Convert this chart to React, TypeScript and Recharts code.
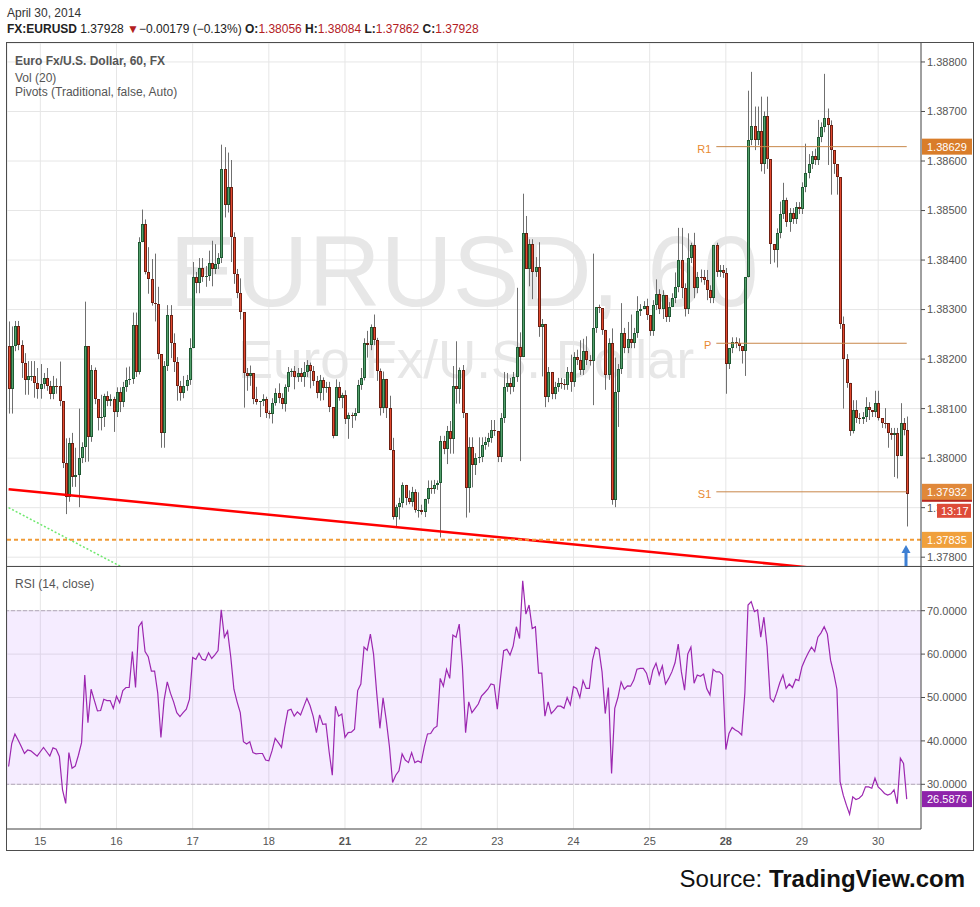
import React from "react";
import {
  ComposedChart,
  Bar,
  Line,
  XAxis,
  YAxis,
  CartesianGrid,
  ReferenceLine,
  ReferenceArea,
} from "recharts";

// hourly EURUSD candles, 14 Apr 14:00 -> 30 Apr 09:00
const DAY_TICKS = [10, 34, 58, 82, 106, 130, 154, 178, 202, 226, 250, 274];
const DAY_LABELS = ["15", "16", "17", "18", "21", "22", "23", "24", "25", "28", "29", "30"];
const WEEK_STARTS = ["21", "28"];

const FIRST_OPEN = 1.38226;
const CLOSES = [
  1.3814, 1.38226, 1.38267, 1.38228, 1.38192, 1.38158, 1.38166, 1.38166, 1.38152, 1.3814,
  1.3815, 1.38162, 1.38146, 1.38129, 1.38146, 1.38145, 1.38115, 1.3799, 1.37922, 1.38031,
  1.37962, 1.37966, 1.38, 1.38022, 1.38226, 1.38043, 1.38178, 1.38119, 1.38081, 1.38083,
  1.38125, 1.38115, 1.38119, 1.38093, 1.38133, 1.38113, 1.38144, 1.38158, 1.3816, 1.38269,
  1.38174, 1.38436, 1.38472, 1.38376, 1.38362, 1.38313, 1.38311, 1.3821, 1.38051, 1.38186,
  1.38289, 1.38232, 1.38194, 1.38146, 1.38131, 1.38146, 1.38158, 1.38222, 1.38366, 1.38353,
  1.38384, 1.38366, 1.38368, 1.38394, 1.38382, 1.38392, 1.38404, 1.38583, 1.38511, 1.38547,
  1.38446, 1.38372, 1.38333, 1.38295, 1.38172, 1.38166, 1.38172, 1.38119, 1.38113, 1.38115,
  1.38119, 1.38091, 1.3809, 1.38111, 1.38131, 1.38121, 1.38109, 1.38144, 1.38174, 1.38176,
  1.38164, 1.38172, 1.38164, 1.38174, 1.38188, 1.38176, 1.38156, 1.38131, 1.38158, 1.38142,
  1.38144, 1.38103, 1.38045, 1.38144, 1.38121, 1.38127, 1.38079, 1.38087, 1.38086, 1.38091,
  1.38148, 1.38162, 1.38232, 1.38228, 1.38265, 1.38238, 1.38176, 1.38101, 1.3816, 1.38101,
  1.38016, 1.37881, 1.37901, 1.3791, 1.37946, 1.3792, 1.37912, 1.37932, 1.37895, 1.37896,
  1.37891, 1.37918, 1.3794, 1.37938, 1.37946, 1.3795, 1.38035, 1.38018, 1.38055, 1.38039,
  1.38146, 1.3814, 1.38178, 1.38091, 1.3794, 1.38022, 1.37986, 1.38, 1.38002, 1.38027,
  1.38033, 1.38041, 1.38057, 1.38055, 1.38002, 1.38081, 1.38144, 1.38152, 1.38144, 1.38164,
  1.38224, 1.38204, 1.38454, 1.38382, 1.38432, 1.38376, 1.38386, 1.38265, 1.38271, 1.38123,
  1.38174, 1.38129, 1.38144, 1.38152, 1.3815, 1.38148, 1.38174, 1.38154, 1.38204, 1.38198,
  1.38178, 1.38216, 1.38198, 1.38197, 1.38263, 1.38305, 1.38303, 1.38259, 1.38168, 1.38232,
  1.37916, 1.38133, 1.3818, 1.38253, 1.38222, 1.3824, 1.38232, 1.38253, 1.38297, 1.38301,
  1.38307, 1.38289, 1.38257, 1.38309, 1.38331, 1.38301, 1.38329, 1.38285, 1.38305, 1.38323,
  1.38345, 1.384, 1.38343, 1.38301, 1.38404, 1.3843, 1.38343, 1.38366, 1.38365, 1.3836,
  1.38339, 1.38323, 1.3843, 1.38376, 1.3838, 1.38374, 1.3819, 1.38222, 1.38234, 1.38232,
  1.38226, 1.38216, 1.38365, 1.38642, 1.3867, 1.38642, 1.3866, 1.38594, 1.3869, 1.38604,
  1.38432, 1.3842, 1.38454, 1.38493, 1.38521, 1.38477, 1.38495, 1.38483, 1.38507, 1.38503,
  1.38547, 1.38575, 1.38594, 1.3861, 1.38602, 1.38648, 1.38668, 1.38686, 1.38672, 1.38622,
  1.38594, 1.38567, 1.38271, 1.382, 1.38152, 1.38055, 1.38097, 1.38081, 1.38079, 1.38083,
  1.38103, 1.38097, 1.38093, 1.38111, 1.38081, 1.38071, 1.3807, 1.38051, 1.38047, 1.38051,
  1.38004, 1.38071, 1.38056, 1.37928,
];
// wick lengths in pips above / below the body
const WICK_UP = [
  5, 4, 1, 1, 1, 2, 3, 3, 3, 3,
  4, 1, 2, 1, 2, 1.5, 5, 0, 5, 1,
  2, 5.5, 10, 1, 9, 0, 1, 0.5, 0, 4.5,
  0.5, 1, 1, 0.5, 1, 1, 1, 2.5, 2.5, 2.5,
  2.5, 1, 3, 1, 5, 4, 10, 3.5, 0, 1,
  2, 2, 2, 1, 1, 2, 1, 2, 3, 1,
  2, 2, 2, 2.5, 4.5, 4, 1, 5, 4.5, 7,
  5.5, 1, 1, 3, 0, 1, 1.5, 0, 2.5, 0,
  1, 0.5, 0.5, 1, 1, 2, 1, 0.5, 1, 0.5,
  1, 1, 1, 2, 1, 0.5, 1, 1, 1, 0.5,
  1, 1, 0, 1.5, 1, 0.5, 1, 0.5, 0.5, 1,
  1, 2, 1, 2.5, 0.5, 2.5, 0.5, 0.5, 1.5, 0,
  2.5, 2.5, 0.5, 1, 0.5, 0, 1.5, 1, 0.5, 3.5,
  1, 0, 1.5, 1.5, 1, 0.5, 1, 1, 1, 2,
  4, 9, 0.5, 1, 0, 2, 2, 1, 4, 1.5,
  1, 1, 2, 2, 0, 1, 3, 2, 1, 1,
  12, 3, 8, 3.5, 1, 1, 2, 5, 1, 0,
  1, 0, 1, 1, 1, 1, 1, 3.5, 1, 1.5,
  4, 2.5, 3, 1, 15, 0, 0.5, 0, 0, 1,
  3, 7, 1, 6, 1, 3.5, 5, 1, 3, 1,
  1, 1.5, 0, 1, 3, 1, 1, 0, 1, 1,
  3, 6.5, 6.5, 1, 5, 0.5, 2.5, 1, 1.5, 1.5,
  2, 1, 0, 0.5, 1, 1, 1, 0, 1, 1,
  1, 0, 0, 10, 11, 4, 5, 7, 1, 4,
  0, 0, 1, 2.5, 3.5, 0.5, 1, 1, 1, 1,
  1, 6, 2, 1, 1.5, 3.5, 1, 9, 2, 1,
  0, 0, 0, 1.5, 1, 0, 2, 2, 1, 1,
  2, 1, 0, 2.5, 2.5, 0, 3, 0, 1, 1,
  1, 4, 1, 2.8,
];
const WICK_DN = [
  5, 5, 1, 1, 3, 3, 3, 1, 3, 2,
  2, 1, 1, 1, 1, 1.5, 1, 1, 3.5, 1,
  2, 2, 6.5, 1, 3, 5, 1, 1, 2.5, 2.5,
  2, 1, 1, 4, 1, 2, 1, 1, 1, 1,
  1, 0.5, 0, 0.5, 3, 0.5, 3.5, 1, 3, 3,
  1, 3, 2, 3, 1.5, 1, 1, 1, 0, 2,
  2, 1, 2, 1, 3.5, 1, 1, 1, 2.5, 1.5,
  5, 2, 1, 1.5, 7, 3, 2, 1, 0.5, 3,
  1, 1, 1, 2, 0.5, 1, 1, 1.5, 1, 1,
  2.5, 1, 1, 2, 1, 3.5, 1, 1, 1.5, 2.5,
  1, 1, 0.5, 0, 0.5, 2, 1, 4, 2.5, 1,
  0, 1, 0.5, 2.5, 1, 1, 2, 1.5, 1, 2,
  0, 0.5, 2, 2.5, 1, 1.5, 0.5, 1, 0.5, 1.5,
  0.5, 1, 1, 1, 1, 1, 11, 1, 3, 3,
  3, 3, 3, 1, 6, 5, 4.5, 2, 1, 1,
  1, 1, 1, 1, 1, 1, 1, 1, 1.5, 1,
  1, 21, 0, 0, 3.5, 5.5, 1, 2, 10, 2,
  1, 1, 1, 1, 1, 1, 1, 2, 1, 1,
  1, 1, 1, 1, 9, 1, 1, 1, 3, 1,
  1, 1.5, 7, 1, 1, 1, 1, 1, 1, 1,
  0, 1, 1, 1, 1, 1, 2, 1, 1, 0,
  1, 1, 2, 1.5, 1, 1, 2, 1, 1, 1,
  2, 1, 1, 1, 1, 1, 6, 1, 1, 1,
  1, 2.5, 5, 0, 1, 2, 1, 1.5, 2, 2,
  4, 2.5, 3.5, 1, 1, 1, 2, 1, 1, 1,
  1, 1, 1, 1, 1, 1, 1, 1, 8, 9,
  2, 3.5, 1, 10, 1, 1, 0.5, 1, 1, 1,
  1, 2, 1, 1, 0.5, 1, 1, 3, 1, 8.5,
  4.5, 0, 1, 6.6,
];
const RSI = [
  34.1, 39.4, 41.6, 40.2, 38.7, 37.1, 37.9, 37.7, 37.1, 36.5,
  37.5, 38.5, 37.5, 36.5, 38.4, 38.1, 36.4, 28.7, 25.6, 37.3,
  33.7, 34.2, 36.7, 39.6, 55.2, 44.2, 51.9, 49.4, 46.9, 47.0,
  49.6, 49.3, 49.3, 47.5, 50.3, 48.8, 51.6, 52.3, 52.3, 60.6,
  52.3, 66.3, 67.4, 60.6, 59.4, 56.1, 56.1, 51.0, 40.8, 49.4,
  53.6, 51.0, 49.0, 46.5, 45.6, 46.5, 47.3, 49.6, 59.2, 58.8,
  60.2, 58.8, 58.6, 60.3, 59.0, 59.8, 60.8, 70.2, 63.9, 65.3,
  59.4, 51.9, 49.0, 46.5, 39.8, 39.3, 39.8, 37.3, 37.0, 37.1,
  37.1, 35.6, 35.4, 37.7, 40.6, 39.6, 38.5, 43.1, 47.0, 47.3,
  45.7, 46.7, 46.0, 47.9, 49.8, 48.1, 45.6, 41.9, 46.0, 43.8,
  43.9, 37.5, 32.1, 48.0, 45.7, 46.2, 40.8, 41.9, 42.0, 42.7,
  51.6, 53.1, 61.6, 60.9, 64.6, 60.0, 51.0, 42.9, 49.9, 44.8,
  38.7, 30.4, 32.1, 33.1, 37.0, 35.6, 35.0, 37.3, 35.0, 35.4,
  35.0, 38.7, 41.6, 41.7, 42.9, 43.4, 54.4, 52.6, 56.5, 54.4,
  64.4, 63.9, 66.9, 57.1, 41.9, 49.0, 46.5, 47.5, 48.5, 50.3,
  51.1, 51.9, 53.1, 52.9, 47.3, 54.4, 60.8, 61.1, 59.8, 61.9,
  66.3, 63.6, 76.9, 69.2, 71.3, 65.9, 66.3, 55.6, 55.6, 45.7,
  49.0, 46.3, 47.1, 48.0, 48.0, 47.5, 50.0, 48.3, 52.5, 52.1,
  50.0, 53.9, 52.1, 52.1, 58.6, 61.6, 61.1, 55.9, 46.3, 52.3,
  32.5, 47.5, 50.0, 53.6, 51.9, 52.7, 52.6, 54.0, 56.5, 56.7,
  56.7, 55.6, 52.9, 56.3, 57.9, 55.2, 57.3, 53.1, 54.4, 55.9,
  58.0, 62.3, 55.9, 51.7, 60.0, 61.6, 53.3, 55.2, 54.9, 55.4,
  52.0, 50.6, 56.5, 55.9, 55.9, 55.2, 38.0, 41.7, 43.1, 42.5,
  42.1, 41.4, 51.1, 71.3, 72.1, 69.8, 70.2, 63.9, 68.5, 61.7,
  49.8, 49.0, 51.0, 53.4, 55.2, 52.1, 53.1, 52.3, 54.2, 53.9,
  57.1, 58.8, 60.3, 61.6, 60.6, 63.9, 64.9, 66.3, 64.6, 58.6,
  55.6, 51.9, 30.6, 27.5, 25.2, 23.1, 27.1, 26.5, 26.8, 27.5,
  29.4, 29.4, 29.1, 31.4, 29.4, 28.7, 27.9, 27.5, 27.8, 28.7,
  25.5, 36.0, 34.8, 26.5876,
];
const EMPTY_SLOTS = 4;

const PRICE_TICKS = [1.378, 1.379, 1.38, 1.381, 1.382, 1.383, 1.384, 1.385, 1.386, 1.387, 1.388];
const PRICE_DOMAIN = [1.377822, 1.388383];
const RSI_TICKS = [30, 40, 50, 60, 70];
const RSI_DOMAIN = [19.7, 80.3];

const PIVOTS = [
  { name: "R1", value: 1.38629, badge: "#d97d2a" },
  { name: "P", value: 1.38232, badge: null },
  { name: "S1", value: 1.37932, badge: "#e0883a" },
];
const PIVOT_FROM = 223;
const PIVOT_TO = 283;
const ALERT_PRICE = 1.37835;
const COUNTDOWN = "13:17";
const CHANGE = "\u22120.00179";
const CHANGE_PCT = "(\u22120.13%)";
const RED_TREND = [{ x: 0, y: 1.37937 }, { x: 283, y: 1.3776 }];
const GREEN_TREND = [{ x: 0, y: 1.379 }, { x: 50, y: 1.37732 }];

const rows: any[] = CLOSES.map((close, i) => {
  const open = i === 0 ? FIRST_OPEN : CLOSES[i - 1];
  return {
    t: i,
    open,
    close,
    high: Math.max(open, close) + WICK_UP[i] / 10000,
    low: Math.min(open, close) - WICK_DN[i] / 10000,
    rsi: RSI[i],
  };
});
for (let k = 0; k < EMPTY_SLOTS; k++) rows.push({ t: CLOSES.length + k });
const last = rows[CLOSES.length - 1];

const FONT = "'Liberation Sans', Arial, sans-serif";
const AXIS = "#4d4d4d";
const GRID = "#e6e6e6";
const TXT = "#555";
const UP_FILL = "#53a06c";
const UP_LINE = "#1f5a33";
const DN_FILL = "#e2492f";
const DN_LINE = "#6e1f12";
const VAL_RED = "#b3201f";

function Candle(props: any) {
  const { x, y, width, height, payload } = props;
  if (!payload || payload.high == null || y == null) return null;
  const { open, close, high, low } = payload;
  const span = high - low;
  const toY = (p: number) => (span > 0 ? y + ((high - p) / span) * height : y);
  const cx = Math.round(x + width / 2);
  const up = close >= open;
  const top = Math.round(toY(Math.max(open, close)));
  const bot = Math.round(toY(Math.min(open, close)));
  const h = Math.max(1, bot - top);
  return (
    <g>
      <line x1={cx + 0.5} x2={cx + 0.5} y1={y} y2={y + height} stroke="#6f6f6f" strokeWidth={1} />
      <rect x={cx - 1} y={top} width={3} height={h} fill={up ? UP_LINE : DN_LINE} />
      {h > 2 && <rect x={cx} y={top + 1} width={1} height={h - 2} fill={up ? UP_FILL : DN_FILL} />}
    </g>
  );
}

const badge = (text: string, bg: string) => (p: any) => {
  const vb = p.viewBox;
  const x = vb.x + vb.width;
  return (
    <g>
      <rect x={x + 1} y={vb.y - 8} width={50} height={16} fill={bg} />
      <text x={x + 6} y={vb.y + 4} fill="#fff" fontSize={11}>
        {text}
      </text>
    </g>
  );
};

const lastPriceBadge = (p: any) => {
  const vb = p.viewBox;
  const x = vb.x + vb.width;
  return (
    <g>
      <rect x={x + 1} y={vb.y - 8} width={50} height={16} fill="#b8271f" />
      <rect x={x + 16} y={vb.y + 10} width={34} height={14} fill="#de4b39" />
      <text x={x + 20} y={vb.y + 21} fill="#fff" fontSize={11}>
        {COUNTDOWN}
      </text>
    </g>
  );
};

const pivotLabel = (name: string) => (p: any) => (
  <text x={p.viewBox.x - 5} y={p.viewBox.y + 6} textAnchor="end" fill="#e8892f" fontSize={11}>
    {name}
  </text>
);

const DayTick = (props: any) => {
  const { x, y, payload } = props;
  const label = DAY_LABELS[DAY_TICKS.indexOf(payload.value)];
  return (
    <text
      x={x}
      y={y}
      dy="0.71em"
      textAnchor="middle"
      fontSize={11}
      fill={TXT}
      fontWeight={WEEK_STARTS.includes(label) ? "bold" : "normal"}
    >
      {label}
    </text>
  );
};

export default function App() {
  return (
    <div
      style={{
        position: "absolute",
        left: 0,
        top: 0,
        width: 980,
        height: 907,
        background: "#fff",
        fontFamily: FONT,
      }}
    >
      {/* watermark */}
      <svg width={980} height={907} style={{ position: "absolute", left: 0, top: 0 }}>
        <text x={464} y={306} textAnchor="middle" fontSize={100} fill="#e7e7e7">
          EURUSD, 60
        </text>
        <text x={466} y={378} textAnchor="middle" fontSize={53} fill="#e7e7e7">
          Euro Fx/U.S. Dollar
        </text>
      </svg>

      {/* price panel */}
      <div style={{ position: "absolute", left: 7, top: 43 }}>
        <ComposedChart width={966} height={523} data={rows} margin={{ top: 0, right: 0, bottom: 0, left: 0 }}>
          <CartesianGrid stroke={GRID} />
          <XAxis dataKey="t" type="category" scale="band" hide ticks={DAY_TICKS} interval={0} />
          <YAxis
            orientation="right"
            type="number"
            domain={PRICE_DOMAIN}
            allowDataOverflow
            ticks={PRICE_TICKS}
            interval={0}
            tickFormatter={(v: number) => v.toFixed(5)}
            width={52}
            axisLine={{ stroke: AXIS }}
            tickLine={{ stroke: AXIS }}
            tickSize={4}
            tick={{ fill: TXT, fontSize: 11 }}
          />
          <ReferenceLine
            segment={GREEN_TREND}
            ifOverflow="hidden"
            stroke="#6ee86e"
            strokeWidth={1.5}
            strokeDasharray="2 2"
          />
          <Bar
            dataKey={(d: any) => (d.high == null ? null : [d.low, d.high])}
            shape={(p: any) => <Candle {...p} />}
            isAnimationActive={false}
          />
          <ReferenceLine segment={RED_TREND} ifOverflow="hidden" stroke="#ff0000" strokeWidth={2.5} />
          <ReferenceLine y={ALERT_PRICE} stroke="#f09a36" strokeWidth={2} strokeDasharray="4 3" />
          {PIVOTS.map((pv) => (
            <ReferenceLine
              key={pv.name}
              segment={[{ x: PIVOT_FROM, y: pv.value }, { x: PIVOT_TO, y: pv.value }]}
              stroke="#c8874a"
              strokeWidth={1}
              label={pivotLabel(pv.name)}
            />
          ))}
        </ComposedChart>
      </div>

      {/* price-scale badges, stacked above the axis ticks */}
      <div style={{ position: "absolute", left: 7, top: 43, pointerEvents: "none" }}>
        <ComposedChart width={966} height={523} data={rows} margin={{ top: 0, right: 52, bottom: 0, left: 0 }}>
          <XAxis dataKey="t" type="category" scale="band" hide />
          <YAxis type="number" domain={PRICE_DOMAIN} allowDataOverflow hide />
          <ReferenceLine y={last.close} stroke="none" label={lastPriceBadge} />
          {PIVOTS.filter((pv) => pv.badge).map((pv) => (
            <ReferenceLine
              key={"b" + pv.name}
              y={pv.value}
              stroke="none"
              label={badge(pv.value.toFixed(5), pv.badge as string)}
            />
          ))}
          <ReferenceLine y={ALERT_PRICE} stroke="none" label={badge(ALERT_PRICE.toFixed(5), "#f0a03c")} />
        </ComposedChart>
      </div>

      {/* RSI panel */}
      <div style={{ position: "absolute", left: 7, top: 566 }}>
        <ComposedChart width={966} height={285} data={rows} margin={{ top: 0, right: 0, bottom: 0, left: 0 }}>
          <CartesianGrid stroke={GRID} />
          <XAxis
            dataKey="t"
            type="category"
            scale="band"
            ticks={DAY_TICKS}
            interval={0}
            height={22}
            axisLine={{ stroke: AXIS }}
            tickLine={false}
            tick={<DayTick />}
          />
          <YAxis
            orientation="right"
            type="number"
            domain={RSI_DOMAIN}
            allowDataOverflow
            ticks={RSI_TICKS}
            interval={0}
            tickFormatter={(v: number) => v.toFixed(4)}
            width={52}
            axisLine={{ stroke: AXIS }}
            tickLine={{ stroke: AXIS }}
            tickSize={4}
            tick={{ fill: TXT, fontSize: 11 }}
          />
          <ReferenceArea y1={30} y2={70} fill="#a040ff" fillOpacity={0.1} stroke="none" />
          <ReferenceLine y={70} stroke="#b3a9bb" strokeDasharray="4 2" />
          <ReferenceLine y={30} stroke="#b3a9bb" strokeDasharray="4 2" />
          <Line
            dataKey="rsi"
            type="linear"
            stroke="#9c27b0"
            strokeWidth={1.2}
            dot={false}
            isAnimationActive={false}
          />
          <ReferenceLine y={last.rsi} stroke="none" label={badge(last.rsi.toFixed(4), "#8e24aa")} />
        </ComposedChart>
      </div>

      {/* frame, header, legends */}
      <svg
        width={980}
        height={907}
        style={{ position: "absolute", left: 0, top: 0, pointerEvents: "none" }}
      >
        <rect x={6.5} y={42.5} width={967} height={808} fill="none" stroke={AXIS} />
        <line x1={6.5} x2={973.5} y1={566.5} y2={566.5} stroke={AXIS} />
        <text x={7} y={17} fontSize={12} fill="#333">
          April 30, 2014
        </text>
        <text x={7} y={33} fontSize={12} fill="#222">
          <tspan fontWeight="bold">FX:EURUSD</tspan>
          <tspan>{" " + last.close.toFixed(5) + " "}</tspan>
          <tspan fill={VAL_RED}>{"\u25BC"}</tspan>
          <tspan>{CHANGE + " " + CHANGE_PCT + " "}</tspan>
          <tspan fontWeight="bold">O:</tspan>
          <tspan fill={VAL_RED}>{last.open.toFixed(5)}</tspan>
          <tspan fontWeight="bold">{" H:"}</tspan>
          <tspan fill={VAL_RED}>{last.high.toFixed(5)}</tspan>
          <tspan fontWeight="bold">{" L:"}</tspan>
          <tspan fill={VAL_RED}>{last.low.toFixed(5)}</tspan>
          <tspan fontWeight="bold">{" C:"}</tspan>
          <tspan fill={VAL_RED}>{last.close.toFixed(5)}</tspan>
        </text>
        <text x={15} y={65} fontSize={12} fontWeight="bold" fill={TXT}>
          Euro Fx/U.S. Dollar, 60, FX
        </text>
        <text x={15} y={82} fontSize={12} fill={TXT}>
          Vol (20)
        </text>
        <text x={15} y={96} fontSize={12} fill={TXT}>
          Pivots (Traditional, false, Auto)
        </text>
        <text x={15} y={588} fontSize={12} fill={TXT}>
          RSI (14, close)
        </text>
        <path d="M906 545 L910.5 553 L907.5 553 L907.5 566 L904.5 566 L904.5 553 L901.5 553 Z" fill="#3d7fd3" />
        <text x={965} y={887} textAnchor="end" fontSize={24} fill="#111">
          <tspan>Source: </tspan>
          <tspan fontWeight="bold">TradingView.com</tspan>
        </text>
      </svg>
    </div>
  );
}
